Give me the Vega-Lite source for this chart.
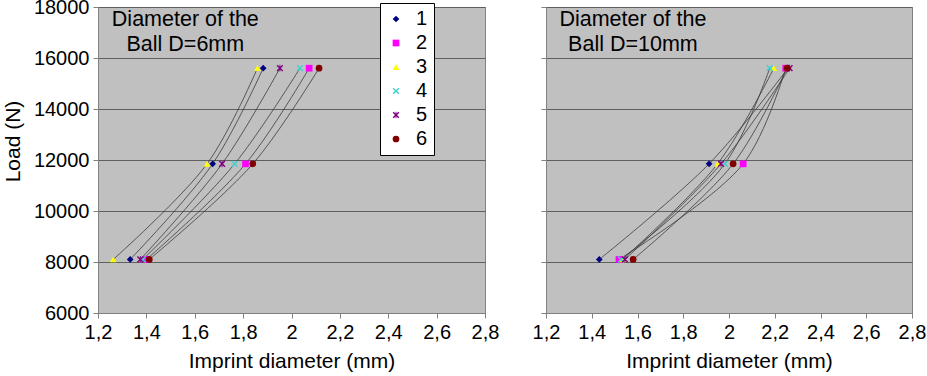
{
  "$schema": "https://vega.github.io/schema/vega-lite/v6.json",
  "background": "white",
  "autosize": {"type": "none"},
  "padding": {"left": 98, "top": 7, "right": 829, "bottom": 369},
  "datasets": {
    "pts": [
      {"ball": "6mm", "sample": "1", "load": 8100, "d": 1.333},
      {"ball": "6mm", "sample": "1", "load": 11850, "d": 1.674},
      {"ball": "6mm", "sample": "1", "load": 15600, "d": 1.883},
      {"ball": "6mm", "sample": "2", "load": 8100, "d": 1.400},
      {"ball": "6mm", "sample": "2", "load": 11850, "d": 1.810},
      {"ball": "6mm", "sample": "2", "load": 15600, "d": 2.073},
      {"ball": "6mm", "sample": "3", "load": 8100, "d": 1.263},
      {"ball": "6mm", "sample": "3", "load": 11850, "d": 1.651},
      {"ball": "6mm", "sample": "3", "load": 15600, "d": 1.859},
      {"ball": "6mm", "sample": "4", "load": 8100, "d": 1.385},
      {"ball": "6mm", "sample": "4", "load": 11850, "d": 1.765},
      {"ball": "6mm", "sample": "4", "load": 15600, "d": 2.035},
      {"ball": "6mm", "sample": "5", "load": 8100, "d": 1.375},
      {"ball": "6mm", "sample": "5", "load": 11850, "d": 1.713},
      {"ball": "6mm", "sample": "5", "load": 15600, "d": 1.952},
      {"ball": "6mm", "sample": "6", "load": 8100, "d": 1.412},
      {"ball": "6mm", "sample": "6", "load": 11850, "d": 1.840},
      {"ball": "6mm", "sample": "6", "load": 15600, "d": 2.114},
      {"ball": "10mm", "sample": "1", "load": 8100, "d": 1.433},
      {"ball": "10mm", "sample": "1", "load": 11850, "d": 1.913},
      {"ball": "10mm", "sample": "1", "load": 15600, "d": 2.258},
      {"ball": "10mm", "sample": "2", "load": 8100, "d": 1.519},
      {"ball": "10mm", "sample": "2", "load": 11850, "d": 2.062},
      {"ball": "10mm", "sample": "2", "load": 15600, "d": 2.248},
      {"ball": "10mm", "sample": "3", "load": 8100, "d": 1.535},
      {"ball": "10mm", "sample": "3", "load": 11850, "d": 1.950},
      {"ball": "10mm", "sample": "3", "load": 15600, "d": 2.196},
      {"ball": "10mm", "sample": "4", "load": 8100, "d": 1.528},
      {"ball": "10mm", "sample": "4", "load": 11850, "d": 1.982},
      {"ball": "10mm", "sample": "4", "load": 15600, "d": 2.178},
      {"ball": "10mm", "sample": "5", "load": 8100, "d": 1.545},
      {"ball": "10mm", "sample": "5", "load": 11850, "d": 1.965},
      {"ball": "10mm", "sample": "5", "load": 15600, "d": 2.265},
      {"ball": "10mm", "sample": "6", "load": 8100, "d": 1.581},
      {"ball": "10mm", "sample": "6", "load": 11850, "d": 2.018},
      {"ball": "10mm", "sample": "6", "load": 15600, "d": 2.254}
    ]
  },
  "spacing": 61,
  "bounds": "flush",
  "resolve": {
    "scale": {"color": "independent", "shape": "independent"},
    "legend": {"color": "independent", "shape": "independent"}
  },
  "hconcat": [
    {
      "width": 387,
      "height": 306,
      "layer": [
        {
          "data": {"name": "pts"},
          "transform": [{"filter": "datum.ball == '6mm'"}],
          "mark": {"type": "line", "interpolate": "catmull-rom", "color": "#3a3a3a", "strokeWidth": 0.8},
          "encoding": {
            "x": {"field": "d", "type": "quantitative", "scale": {"domain": [1.2, 2.8], "nice": false, "zero": false},
                  "axis": {"title": "Imprint diameter (mm)", "values": [1.2, 1.4, 1.6, 1.8, 2.0, 2.2, 2.4, 2.6, 2.8], "labelExpr": "replace(format(datum.value, '.2~f'), '.', ',')"}},
            "y": {"field": "load", "type": "quantitative", "scale": {"domain": [6000, 18000], "nice": false, "zero": false},
                  "axis": {"title": "Load (N)", "titleY": 134, "values": [6000, 8000, 10000, 12000, 14000, 16000, 18000], "format": "d", "grid": true}},
            "detail": {"field": "sample"},
            "order": {"field": "load"}
          }
        },
        {
          "data": {"name": "pts"},
          "transform": [{"filter": "datum.ball == '6mm'"}],
          "mark": {"type": "point", "filled": true, "opacity": 1, "size": 45},
          "encoding": {
            "x": {"field": "d", "type": "quantitative"},
            "y": {"field": "load", "type": "quantitative"},
            "color": {"field": "sample", "type": "nominal",
                      "scale": {"domain": ["1", "2", "3", "4", "5", "6"], "range": ["#000080", "#FF00FF", "#FFFF00", "#40D0D0", "#800080", "#800000"]},
                      "legend": {"orient": "none", "legendX": 282, "legendY": -4, "title": null, "fillColor": "white", "strokeColor": "black", "padding": 6, "labelFontSize": 20, "symbolSize": 45, "rowPadding": 4, "labelOffset": 10, "symbolStrokeWidth": 0}},
            "shape": {"field": "sample", "type": "nominal",
                      "scale": {"domain": ["1", "2", "3", "4", "5", "6"], "range": ["diamond", "square", "triangle-up", "M-1,-0.7L-0.7,-1L0,-0.3L0.7,-1L1,-0.7L0.3,0L1,0.7L0.7,1L0,0.3L-0.7,1L-1,0.7L-0.3,0Z", "M-1,-0.7L-0.7,-1L0,-0.3L0.7,-1L1,-0.7L0.3,0L1,0.7L0.7,1L0,0.3L-0.7,1L-1,0.7L-0.3,0ZM-0.13,-1L0.13,-1L0.13,1L-0.13,1Z", "circle"]},
                      "legend": {"orient": "none", "legendX": 282, "legendY": -4, "title": null, "fillColor": "white", "strokeColor": "black", "padding": 6, "labelFontSize": 20, "symbolSize": 45, "rowPadding": 4, "labelOffset": 10, "symbolStrokeWidth": 0}}
          }
        },
        {
          "data": {"values": [{"label": "Diameter of the\nBall D=6mm"}]},
          "mark": {"type": "text", "align": "center", "baseline": "alphabetic", "fontSize": 21.5, "lineBreak": "\n", "lineHeight": 25, "color": "black"},
          "encoding": {
            "x": {"datum": 1.561, "type": "quantitative"},
            "y": {"datum": 17255, "type": "quantitative"},
            "text": {"field": "label"}
          }
        }
      ]
    },
    {
      "width": 366,
      "height": 306,
      "layer": [
        {
          "data": {"name": "pts"},
          "transform": [{"filter": "datum.ball == '10mm'"}],
          "mark": {"type": "line", "interpolate": "catmull-rom", "color": "#3a3a3a", "strokeWidth": 0.8},
          "encoding": {
            "x": {"field": "d", "type": "quantitative", "scale": {"domain": [1.2, 2.8], "nice": false, "zero": false},
                  "axis": {"title": "Imprint diameter (mm)", "values": [1.2, 1.4, 1.6, 1.8, 2.0, 2.2, 2.4, 2.6, 2.8], "labelExpr": "replace(format(datum.value, '.2~f'), '.', ',')"}},
            "y": {"field": "load", "type": "quantitative", "scale": {"domain": [6000, 18000], "nice": false, "zero": false},
                  "axis": {"title": null, "labels": false, "values": [6000, 8000, 10000, 12000, 14000, 16000, 18000], "grid": true}},
            "detail": {"field": "sample"},
            "order": {"field": "load"}
          }
        },
        {
          "data": {"name": "pts"},
          "transform": [{"filter": "datum.ball == '10mm'"}],
          "mark": {"type": "point", "filled": true, "opacity": 1, "size": 45},
          "encoding": {
            "x": {"field": "d", "type": "quantitative"},
            "y": {"field": "load", "type": "quantitative"},
            "color": {"field": "sample", "type": "nominal",
                      "scale": {"domain": ["1", "2", "3", "4", "5", "6"], "range": ["#000080", "#FF00FF", "#FFFF00", "#40D0D0", "#800080", "#800000"]},
                      "legend": null},
            "shape": {"field": "sample", "type": "nominal",
                      "scale": {"domain": ["1", "2", "3", "4", "5", "6"], "range": ["diamond", "square", "triangle-up", "M-1,-0.7L-0.7,-1L0,-0.3L0.7,-1L1,-0.7L0.3,0L1,0.7L0.7,1L0,0.3L-0.7,1L-1,0.7L-0.3,0Z", "M-1,-0.7L-0.7,-1L0,-0.3L0.7,-1L1,-0.7L0.3,0L1,0.7L0.7,1L0,0.3L-0.7,1L-1,0.7L-0.3,0ZM-0.13,-1L0.13,-1L0.13,1L-0.13,1Z", "circle"]},
                      "legend": null}
          }
        },
        {
          "data": {"values": [{"label": "Diameter of the\nBall D=10mm"}]},
          "mark": {"type": "text", "align": "center", "baseline": "alphabetic", "fontSize": 21.5, "lineBreak": "\n", "lineHeight": 25, "color": "black"},
          "encoding": {
            "x": {"datum": 1.58, "type": "quantitative"},
            "y": {"datum": 17255, "type": "quantitative"},
            "text": {"field": "label"}
          }
        }
      ]
    }
  ],
  "config": {
    "font": "Liberation Sans",
    "view": {"fill": "#C0C0C0", "stroke": "#808080", "strokeWidth": 1},
    "axis": {"labelFontSize": 20, "titleFontSize": 21, "titleFontWeight": "normal", "labelColor": "black", "titleColor": "black", "labelFlush": false,
             "domainColor": "#808080", "tickColor": "#808080", "tickSize": 5, "gridColor": "#5f5f5f", "gridOpacity": 1, "labelPadding": 4},
    "axisX": {"grid": false, "titlePadding": 8},
    "axisY": {"titlePadding": 10}
  }
}
